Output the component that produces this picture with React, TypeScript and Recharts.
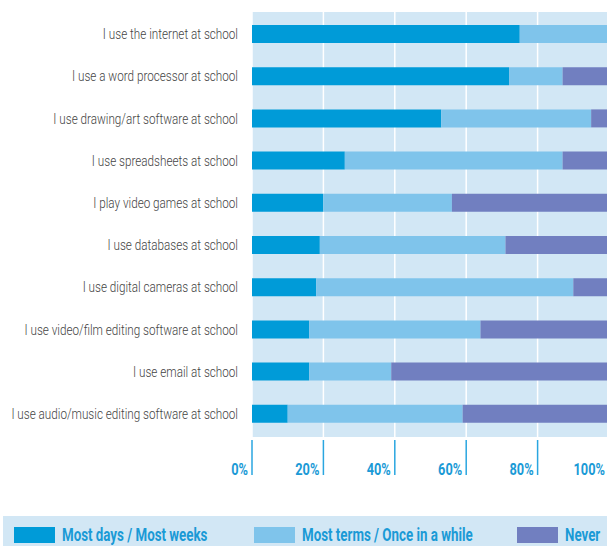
import React from "react";
import { BarChart, Bar, XAxis, YAxis, CartesianGrid, Legend } from "recharts";

const categories = [
  "I use the internet at school",
  "I use a word processor at school",
  "I use drawing/art software at school",
  "I use spreadsheets at school",
  "I play video games at school",
  "I use databases at school",
  "I use digital cameras at school",
  "I use video/film editing software at school",
  "I use email at school",
  "I use audio/music editing software at school",
];
const mostDays = [75, 72, 53, 26, 20, 19, 18, 16, 16, 10];
const mostTerms = [25, 15, 42, 61, 36, 52, 72, 48, 23, 49];
const never = [0, 13, 5, 13, 44, 29, 10, 36, 61, 41];
const xTicks = [0, 20, 40, 60, 80, 100];

const seriesNames = ["Most days / Most weeks", "Most terms / Once in a while", "Never"];
const colors = ["#009bd8", "#7fc4eb", "#717fc0"];

// no condensed font available, so squeeze horizontally
const FONT = "Roboto, 'Noto Sans', sans-serif";
const BLUE_TEXT = "#1a9ad6";

const data = categories.map((label, i) => ({
  label,
  mostDays: mostDays[i],
  mostTerms: mostTerms[i],
  never: never[i],
}));

function CategoryTick({ x, y, payload }: any) {
  return (
    <text
      transform={`translate(${x - 12},${y + 5}) scale(0.78,1)`}
      textAnchor="end"
      fontFamily={FONT}
      fontWeight={300}
      fontSize={15}
      fill="#444"
    >
      {payload.value}
    </text>
  );
}

function PercentTick({ x, y, payload }: any) {
  return (
    <g>
      <line x1={x} x2={x} y1={y + 3} y2={y + 38} stroke="#2aa6e0" strokeWidth={1.5} />
      <text
        transform={`translate(${x - 4},${y + 38}) scale(0.8,1)`}
        textAnchor="end"
        fontFamily={FONT}
        fontWeight="bold"
        fontSize={16}
        fill={BLUE_TEXT}
      >
        {payload.value}%
      </text>
    </g>
  );
}

const legendLeft = [11, 251, 514];

function LegendBand() {
  return (
    <div style={{ position: "relative", width: 604, height: 30, background: "#d2e7f5" }}>
      {seriesNames.map((name, i) => (
        <div key={name} style={{ position: "absolute", left: legendLeft[i], top: 11, display: "flex", alignItems: "center" }}>
          <span style={{ width: 41, height: 16, background: colors[i], display: "inline-block", flexShrink: 0 }} />
          <span
            style={{
              marginLeft: 7,
              fontFamily: FONT,
              fontWeight: "bold",
              fontSize: 18,
              color: BLUE_TEXT,
              whiteSpace: "nowrap",
              lineHeight: "16px",
              display: "inline-block",
              transform: "scaleX(0.74)",
              transformOrigin: "left center",
            }}
          >
            {name}
          </span>
        </div>
      ))}
    </div>
  );
}

export default function App() {
  return (
    <div style={{ position: "absolute", left: 0, top: 0, width: 607, height: 546, overflow: "hidden", background: "#fff" }}>
      <BarChart width={609} height={546} data={data} layout="vertical" margin={{ top: 12, right: 0, bottom: 69, left: 0 }} barSize={18}>
        <CartesianGrid horizontal={false} fill="#d2e7f5" stroke="#ffffff" strokeWidth={1.5} />
        <XAxis
          type="number"
          domain={[0, 100]}
          ticks={xTicks}
          height={40}
          axisLine={false}
          tickLine={false}
          tickSize={0}
          tickMargin={0}
          interval={0}
          tick={<PercentTick />}
        />
        <YAxis
          type="category"
          dataKey="label"
          width={252}
          axisLine={false}
          tickLine={false}
          tickSize={0}
          interval={0}
          padding={{ top: 1, bottom: 2 }}
          tick={<CategoryTick />}
        />
        <Legend
          layout="horizontal"
          verticalAlign="middle"
          align="center"
          wrapperStyle={{ position: "absolute", top: 516, left: 3, width: 604, height: 30 }}
          content={() => <LegendBand />}
        />
        <Bar dataKey="mostDays" name={seriesNames[0]} stackId="a" fill={colors[0]} isAnimationActive={false} />
        <Bar dataKey="mostTerms" name={seriesNames[1]} stackId="a" fill={colors[1]} isAnimationActive={false} />
        <Bar dataKey="never" name={seriesNames[2]} stackId="a" fill={colors[2]} isAnimationActive={false} />
      </BarChart>
    </div>
  );
}
